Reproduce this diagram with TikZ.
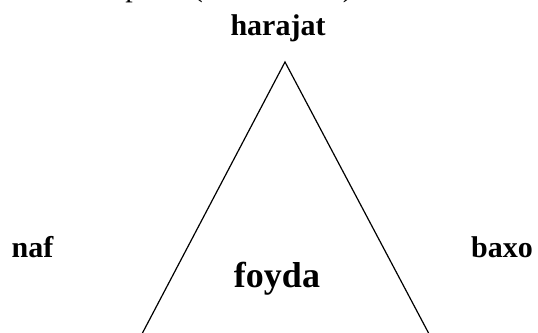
\documentclass[tikz,border=0pt]{standalone}
\usepackage{fontspec}
\setmainfont{Liberation Serif}
\usetikzlibrary{calc}
\begin{document}
\begin{tikzpicture}[x=1pt,y=-1pt,
  lbl/.style={font=\fontsize{30}{36}\selectfont\bfseries, inner sep=0pt, anchor=base},
  big/.style={font=\fontsize{36}{42}\selectfont\bfseries, inner sep=0pt, anchor=base},
  ttl/.style={font=\fontsize{30}{36}\selectfont, inner sep=0pt, anchor=base west},
  side/.style={line width=1.2pt, line cap=round}]
\useasboundingbox (0,0) rectangle (538,332);
\clip (0,0) rectangle (538,332);
\node[ttl] (title) at (36,-3) {Biznes plani (uchburchak)};
\node[lbl] (harajat) at (278,35) {harajat};
\node[lbl] (naf) at (32.5,257) {naf};
\node[lbl] (baxo) at (502,257) {baxo};
\node[big] (foyda) at (277,287) {foyda};
\coordinate (apex) at (285,62);
\coordinate (bl) at (143,332);
\coordinate (br) at (428,332);
\draw[side] ($(apex)!1.05!(bl)$) -- (apex) -- ($(apex)!1.05!(br)$);
\end{tikzpicture}
\end{document}
